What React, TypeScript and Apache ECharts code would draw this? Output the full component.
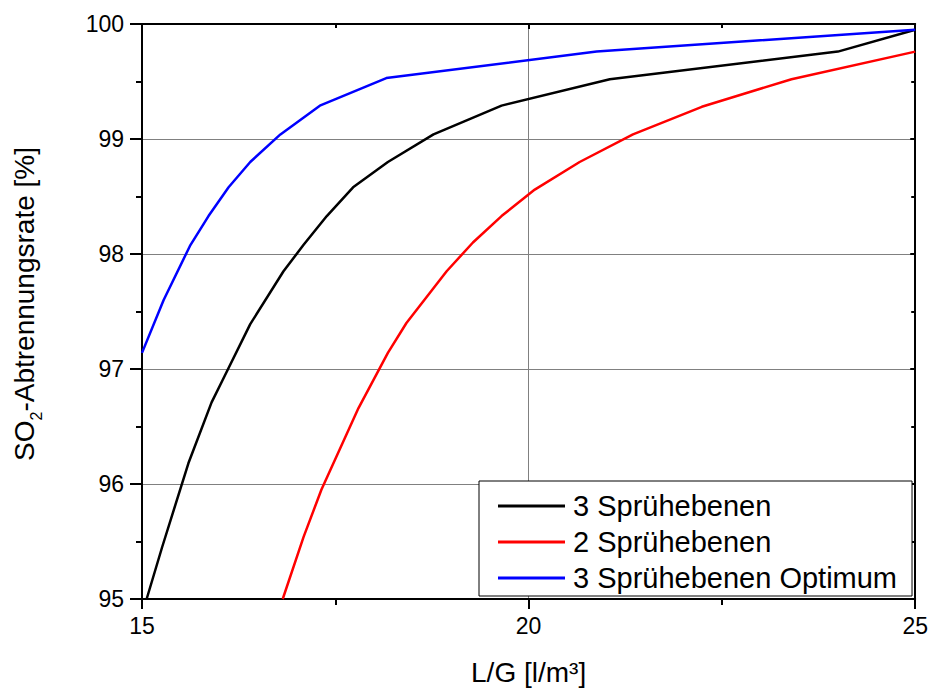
import React, { useEffect, useRef } from "react";
import * as echarts from "echarts";

const blackX = [15.06, 15.26, 15.6, 15.9, 16.04, 16.4, 16.83, 17.09, 17.39, 17.73, 18.18, 18.77, 19.65, 21.05, 24.0, 25.0];
const blackY = [95.0, 95.45, 96.18, 96.71, 96.9, 97.39, 97.85, 98.08, 98.33, 98.58, 98.8, 99.04, 99.29, 99.52, 99.76, 99.95];

const redX = [16.82, 17.09, 17.32, 17.8, 18.18, 18.42, 18.94, 19.28, 19.65, 20.08, 20.66, 21.35, 22.24, 23.4, 25.0];
const redY = [95.0, 95.54, 95.95, 96.66, 97.14, 97.4, 97.85, 98.1, 98.33, 98.56, 98.8, 99.04, 99.28, 99.52, 99.76];

const blueX = [15.0, 15.28, 15.62, 15.86, 16.12, 16.4, 16.79, 17.3, 18.16, 20.88, 25.0];
const blueY = [97.14, 97.6, 98.07, 98.33, 98.58, 98.8, 99.04, 99.29, 99.53, 99.76, 99.95];

const seriesNames = ["3 Sprühebenen", "2 Sprühebenen", "3 Sprühebenen Optimum"];
const seriesColors = ["#000000", "#ff0000", "#0000ff"];

const xName = "L/G [l/m³]";
const FONT = "'Liberation Sans', Arial, sans-serif";

function zip(xs: number[], ys: number[]) {
  return xs.map((x, i) => [x, ys[i]]);
}

export default function App() {
  const ref = useRef<HTMLDivElement>(null);
  useEffect(() => {
    if (!ref.current) return;
    const chart = echarts.init(ref.current, null, { renderer: "svg" });
    const axisLine = { show: true, onZero: false, lineStyle: { color: "#000", width: 2 } };
    const option: any = {
      animation: false,
      backgroundColor: "#fff",
      textStyle: { fontFamily: FONT },
      grid: { left: 142, right: 15.5, top: 24, bottom: 91.5, containLabel: false },
      legend: {
        orient: "vertical",
        left: 479,
        top: 481,
        icon: "rect",
        itemWidth: 67,
        itemHeight: 3,
        itemGap: 0,
        padding: [7, 15, 0, 19],
        borderColor: "#000",
        borderWidth: 1,
        backgroundColor: "#fff",
        textStyle: { fontSize: 29, lineHeight: 36, color: "#000", fontFamily: FONT, padding: [0, 0, 0, 3] },
        data: seriesNames,
      },
      xAxis: [
        {
          type: "value",
          min: 15,
          max: 25,
          interval: 5,
          position: "bottom",
          name: xName,
          nameLocation: "middle",
          nameGap: 59,
          nameTextStyle: { fontSize: 28, color: "#000", fontFamily: FONT },
          axisLine,
          axisTick: { show: true, inside: false, length: 10, lineStyle: { color: "#000", width: 2 } },
          minorTick: { show: true, splitNumber: 2, length: 6, lineStyle: { color: "#000", width: 2 } },
          axisLabel: { fontSize: 23, color: "#000", margin: 15, fontFamily: FONT },
          splitLine: { show: true, lineStyle: { color: "#808080", width: 1 } },
        },
        {
          type: "value",
          min: 15,
          max: 25,
          interval: 5,
          position: "top",
          axisLine,
          axisTick: { show: true, inside: true, length: 5, lineStyle: { color: "#000", width: 2 } },
          minorTick: { show: true, splitNumber: 2, length: 4, lineStyle: { color: "#000", width: 2 } },
          axisLabel: { show: false },
          splitLine: { show: false },
        },
      ],
      yAxis: [
        {
          type: "value",
          min: 95,
          max: 100,
          interval: 1,
          position: "left",
          axisLine,
          axisTick: { show: true, inside: false, length: 12, lineStyle: { color: "#000", width: 2 } },
          minorTick: { show: true, splitNumber: 2, length: 6, lineStyle: { color: "#000", width: 2 } },
          axisLabel: { fontSize: 23, color: "#000", margin: 18, fontFamily: FONT },
          splitLine: { show: true, lineStyle: { color: "#808080", width: 1 } },
        },
        {
          type: "value",
          min: 95,
          max: 100,
          interval: 1,
          position: "right",
          axisLine,
          axisTick: { show: true, inside: true, length: 5, lineStyle: { color: "#000", width: 2 } },
          minorTick: { show: true, splitNumber: 2, length: 4, lineStyle: { color: "#000", width: 2 } },
          axisLabel: { show: false },
          splitLine: { show: false },
        },
      ],
      graphic: [
        {
          type: "text",
          x: 24,
          y: 304,
          rotation: Math.PI / 2,
          style: {
            text: "{a|SO}{s|2}{a|-Abtrennungsrate [%]}",
            align: "center",
            verticalAlign: "middle",
            fill: "#000",
            rich: {
              a: { fontSize: 28, lineHeight: 40, verticalAlign: "middle", fontFamily: FONT, fill: "#000" },
              s: { fontSize: 16, lineHeight: 9, verticalAlign: "bottom", fontFamily: FONT, fill: "#000" },
            },
          },
        },
      ],
      series: [
        { name: seriesNames[0], type: "line", symbol: "none", data: zip(blackX, blackY), lineStyle: { color: seriesColors[0], width: 2.5 }, itemStyle: { color: seriesColors[0] } },
        { name: seriesNames[1], type: "line", symbol: "none", data: zip(redX, redY), lineStyle: { color: seriesColors[1], width: 2.5 }, itemStyle: { color: seriesColors[1] } },
        { name: seriesNames[2], type: "line", symbol: "none", data: zip(blueX, blueY), lineStyle: { color: seriesColors[2], width: 2.5 }, itemStyle: { color: seriesColors[2] } },
      ],
    };
    chart.setOption(option);
    return () => chart.dispose();
  }, []);
  return <div ref={ref} style={{ width: 931, height: 691, position: "absolute", left: 0, top: 0 }} />;
}
